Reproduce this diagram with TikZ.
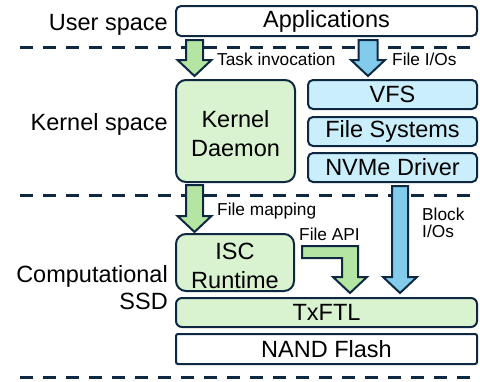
\documentclass[tikz,border=0pt]{standalone}
\usepackage{fontspec}
\setmainfont{Liberation Sans}
\usetikzlibrary{calc}
\definecolor{navy}{RGB}{14,40,65}
\definecolor{gbox}{RGB}{217,242,208}
\definecolor{garrow}{RGB}{180,229,162}
\definecolor{bbox}{RGB}{202,238,251}
\definecolor{barrow}{RGB}{131,203,235}
\tikzset{
  box/.style={draw=navy, line width=2pt, inner sep=0pt, font=\fontsize{23.5}{29}\selectfont, align=center},
  greenbox/.style={box, fill=gbox},
  bluebox/.style={box, fill=bbox},
  whitebox/.style={box, fill=white},
  boxtext/.style={inner sep=0pt, font=\fontsize{23.5}{29}\selectfont, align=center},
  side/.style={inner sep=0pt, font=\fontsize{23.5}{27}\selectfont, align=right},
  small/.style={inner sep=0pt, font=\fontsize{17.3}{17}\selectfont, align=left},
  sep/.style={draw=navy, line width=3pt, dash pattern=on 13pt off 10pt},
  garr/.style={draw=navy, line width=2pt, fill=garrow, line join=miter},
  barr/.style={draw=navy, line width=2pt, fill=barrow, line join=miter}
}
% vertical block arrow: style, x centre, top y, tip y, shaft half width
\newcommand\vblockarrow[5]{%
  \draw[#1] (#2-#5,#3) -- (#2+#5,#3) -- (#2+#5,#4-16) -- (#2+17,#4-16) -- (#2,#4)
    -- (#2-17,#4-16) -- (#2-#5,#4-16) -- cycle;}
\begin{document}
\begin{tikzpicture}[x=1pt,y=-1pt]
\useasboundingbox (0,0) rectangle (480,381);
% separators
\draw[sep] (20,47.5) -- (480,47.5);
\draw[sep] (20,195) -- (480,195);
\draw[sep] (20,377) -- (480,377);
% boxes
\node[whitebox, rounded corners=5pt, minimum width=301pt, minimum height=30pt] (app) at (326.5,21) {Applications};
\node[greenbox, rounded corners=10pt, minimum width=119pt, minimum height=102pt] (kd) at (235.5,131) {};
\node[boxtext] (kdt) at ($(kd.center)+(0,3)$) {Kernel\\Daemon};
\node[bluebox, rounded corners=5pt, minimum width=169pt, minimum height=29pt] (vfs) at (392.5,94.5) {VFS};
\node[bluebox, rounded corners=5pt, minimum width=169pt, minimum height=29pt] (fs) at (392.5,131.5) {File Systems};
\node[bluebox, rounded corners=5pt, minimum width=169pt, minimum height=29pt] (nvme) at (392.5,167.5) {NVMe Driver};
\node[greenbox, rounded corners=10pt, minimum width=118pt, minimum height=57pt] (isc) at (235,262.5) {};
\node[boxtext] (isct) at ($(isc.center)+(0,3)$) {ISC\\Runtime};
\node[greenbox, rounded corners=6pt, minimum width=301pt, minimum height=29pt] (txftl) at (326.5,312.5) {TxFTL};
\node[whitebox, rounded corners=2pt, minimum width=301pt, minimum height=30pt] (nand) at (326.5,349) {NAND Flash};
% side labels
\node[side, anchor=base east] (lus) at (168,30) {User space};
\node[side, anchor=base east] (lks) at (168,130) {Kernel space};
\node[side, anchor=base east] (lcs) at (168,309) {Computational\\SSD};
% arrows
\vblockarrow{garr}{194.5}{40}{76}{8.5}
\vblockarrow{barr}{368}{40}{76}{9.5}
\vblockarrow{garr}{194.5}{185}{232}{8.5}
\vblockarrow{barr}{400}{186}{293}{8}
\draw[garr] (302,246) -- (358,246) -- (358,277) -- (367,277) -- (350,293) -- (333,277)
  -- (342,277) -- (342,258) -- (302,258) -- cycle;
% arrow labels
\node[small, anchor=base west] (ltask) at (217,65) {Task invocation};
\node[small, anchor=base west] (lfio) at (392,65) {File I/Os};
\node[small, anchor=base west] (lfmap) at (217,215) {File mapping};
\node[small, anchor=base west] (lapi) at (299,240) {File API};
\node[small, anchor=base west] (lblk) at (422,237) {Block\\I/Os};
\end{tikzpicture}
\end{document}
